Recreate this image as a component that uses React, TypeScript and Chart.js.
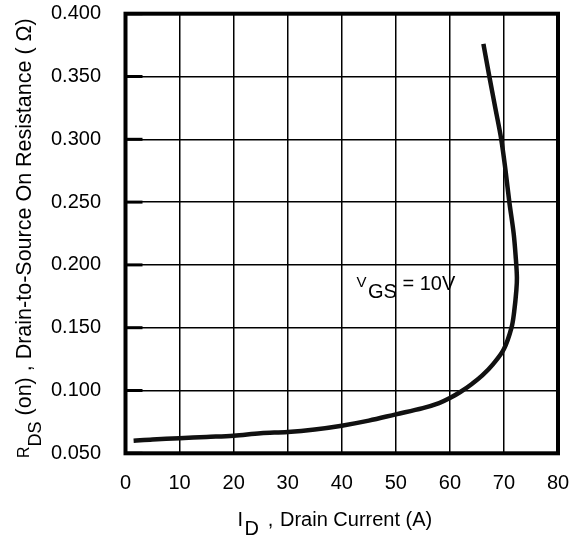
import React, { useEffect, useRef } from "react";
import { Chart, registerables } from "chart.js";

Chart.register(...registerables);

// R_DS(on) versus drain current at V_GS = 10 V
const drainCurrent = [
  1.5, 5, 10, 15, 20, 25, 30, 35, 40, 45, 50, 55, 58, 60, 62, 64, 66, 68, 70,
  71.4, 71.9, 72.3, 72.4, 72.2, 71.8, 71.0, 70.3, 69.5, 68.4, 67.3, 66.2,
];
const onResistance = [
  0.060, 0.061, 0.062, 0.063, 0.064, 0.066, 0.067, 0.069, 0.072, 0.076, 0.081,
  0.086, 0.090, 0.094, 0.099, 0.105, 0.112, 0.121, 0.133, 0.150, 0.163, 0.180,
  0.190, 0.205, 0.225, 0.250, 0.275, 0.300, 0.325, 0.350, 0.376,
];

const xTicks = [0, 10, 20, 30, 40, 50, 60, 70, 80];
const yTicks = [0.05, 0.1, 0.15, 0.2, 0.25, 0.3, 0.35, 0.4];

const FONT = "'Liberation Sans', Arial, Helvetica, sans-serif";
const font = (px: number) => `${px}px ${FONT}`;

// Scales reserve no extra outer padding; the chart area comes from layout.padding
const noScalePadding = (s: any) => {
  s.paddingTop = 0;
  s.paddingBottom = 0;
  s.paddingLeft = 0;
  s.paddingRight = 0;
};

// Frame, inner ticks on the left edge, and the axis titles with subscripts
const decorations = {
  id: "decorations",
  beforeDatasetsDraw(chart: any) {
    const { ctx, chartArea: a, scales } = chart;
    ctx.save();
    ctx.strokeStyle = "#000";
    ctx.lineWidth = 3;
    for (const v of yTicks) {
      const y = scales.y.getPixelForValue(v);
      ctx.beginPath();
      ctx.moveTo(a.left, y);
      ctx.lineTo(a.left + 17, y);
      ctx.stroke();
    }
    ctx.lineWidth = 4;
    ctx.strokeRect(a.left, a.top, a.right - a.left, a.bottom - a.top);
    ctx.restore();
  },
  afterDraw(chart: any) {
    const { ctx } = chart;
    ctx.save();
    ctx.fillStyle = "#000";
    ctx.textBaseline = "alphabetic";
    ctx.textAlign = "left";

    // x-axis title: I_D , Drain Current (A)
    ctx.font = font(20);
    ctx.fillText("I", 237.5, 526);
    ctx.fillText("D", 244.5, 535);
    ctx.fillText(",", 267.7, 526);
    ctx.fillText("Drain Current (A)", 280, 526);

    // y-axis title, rotated: R_DS (on) , Drain-to-Source On Resistance ( Ω)
    ctx.save();
    ctx.translate(30.5, 458);
    ctx.rotate(-Math.PI / 2);
    let t = 0;
    ctx.font = font(16);
    ctx.fillText("R", t, -2);
    t += ctx.measureText("R").width;
    ctx.font = font(18);
    ctx.fillText("DS", t, 10.5);
    t += ctx.measureText("DS").width;
    ctx.font = font(21.5);
    ctx.fillText(" (on) , Drain-to-Source On Resistance ( \u03A9)", t, 0);
    ctx.restore();

    // curve annotation: V_GS = 10V
    let v = 356.5;
    ctx.font = font(15);
    ctx.fillText("V", v, 287.3);
    v += ctx.measureText("V").width + 1.5;
    ctx.font = font(20);
    ctx.fillText("GS", v, 298);
    v += ctx.measureText("GS").width;
    ctx.fillText(" = 10V", v, 290);

    ctx.restore();
  },
};

export default function App() {
  const canvasRef = useRef<HTMLCanvasElement | null>(null);

  useEffect(() => {
    const canvas = canvasRef.current;
    if (!canvas) return;

    const points = drainCurrent.map((id, i) => ({ x: id, y: onResistance[i] }));

    const chart = new Chart(canvas, {
      type: "scatter",
      data: {
        datasets: [
          {
            data: points,
            showLine: true,
            borderColor: "#111",
            borderWidth: 4.5,
            pointRadius: 0,
            tension: 0.35,
            borderCapStyle: "butt",
          },
        ],
      },
      options: {
        responsive: false,
        animation: false,
        layout: { padding: { left: 0, top: 13.7, right: 22, bottom: 0 } },
        plugins: {
          legend: { display: false },
          tooltip: { enabled: false },
        },
        scales: {
          x: {
            type: "linear",
            min: 0,
            max: 80,
            afterBuildTicks: (s: any) => {
              s.ticks = xTicks.map((value) => ({ value }));
            },
            afterFit: (s: any) => {
              s.height = 538 - 453.3;
              noScalePadding(s);
            },
            grid: { color: "#000", lineWidth: 1.5, drawTicks: false },
            border: { display: false },
            ticks: {
              padding: 18.5,
              color: "#000",
              font: { family: FONT, size: 20 },
              maxRotation: 0,
              callback: (v: any) => String(v),
            },
          },
          y: {
            type: "linear",
            min: 0.05,
            max: 0.4,
            afterBuildTicks: (s: any) => {
              s.ticks = yTicks.map((value) => ({ value }));
            },
            afterFit: (s: any) => {
              s.width = 125.5;
              noScalePadding(s);
            },
            grid: { color: "#000", lineWidth: 1.5, drawTicks: false },
            border: { display: false },
            ticks: {
              padding: 24.5,
              color: "#000",
              font: { family: FONT, size: 20 },
              callback: (v: any) => Number(v).toFixed(3),
            },
          },
        },
      },
      plugins: [decorations],
    });

    return () => chart.destroy();
  }, []);

  return (
    <canvas
      ref={canvasRef}
      width={580}
      height={538}
      style={{ position: "absolute", left: 0, top: 0, display: "block", background: "#fff" }}
    />
  );
}
